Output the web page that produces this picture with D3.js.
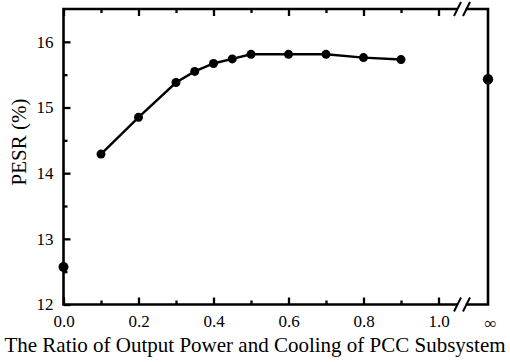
<!DOCTYPE html>
<html><head><meta charset="utf-8">
<script src="https://cdn.jsdelivr.net/npm/d3@7"></script>
<style>body{margin:0;background:#fff}svg{display:block}</style>
</head><body><svg width="510" height="362"></svg>
<script>
const ratios = [0.1, 0.2, 0.3, 0.35, 0.4, 0.45, 0.5, 0.6, 0.7, 0.8, 0.9];
const pesr   = [14.29, 14.85, 15.38, 15.55, 15.67, 15.74, 15.81, 15.81, 15.81, 15.76, 15.73];
const zeroPoint = {x: 0.0, y: 12.57};
const infPoint = {x: "∞", y: 15.43};
const xMajor = [0.0, 0.2, 0.4, 0.6, 0.8, 1.0];
const xMinor = [0.1, 0.3, 0.5, 0.7, 0.9];
const yMajor = [12, 13, 14, 15, 16];
const yMinor = [12.5, 13.5, 14.5, 15.5];
const xTitle = "The Ratio of Output Power and Cooling of PCC Subsystem";
const yTitle = "PESR (%)";

const FONT = '"Liberation Serif","Times New Roman",serif';
const svg = d3.select("svg");
const L = 63.5, R = 488, T = 9, B = 304.5;
const breakL = 456, breakR = 467;
const x = d3.scaleLinear().domain([0, 1]).range([L, 438.5]);
const xInf = d3.scalePoint().domain(["∞"]).range([R + 2, R + 2]);
const y = d3.scaleLinear().domain([12, 16.5]).range([B, T]);

// bottom axis ticks
const gB = svg.append("g").attr("transform", `translate(0,${B})`);
gB.call(d3.axisBottom(x).tickValues(xMajor).tickSize(-7).tickPadding(10).tickFormat(d3.format(".1f")));
gB.append("g").call(d3.axisBottom(x).tickValues(xMinor).tickSize(-4).tickFormat(""));
gB.append("g").call(d3.axisBottom(xInf).tickSize(0).tickPadding(12));
// top axis ticks
const gT = svg.append("g").attr("transform", `translate(0,${T})`);
gT.call(d3.axisTop(x).tickValues(xMajor).tickSize(-7).tickFormat(""));
gT.append("g").call(d3.axisTop(x).tickValues(xMinor).tickSize(-4).tickFormat(""));
// left axis
const gL = svg.append("g").attr("transform", `translate(${L},0)`);
gL.call(d3.axisLeft(y).tickValues(yMajor).tickSize(-7).tickPadding(10).tickFormat(d3.format("d")));
gL.append("g").call(d3.axisLeft(y).tickValues(yMinor).tickSize(-4).tickFormat(""));

svg.selectAll(".domain").remove();
svg.selectAll(".tick line").attr("stroke", "#000").attr("stroke-width", 2.3);
svg.selectAll(".tick text").style("font-size", "17px").style("fill", "#000").style("font-family", FONT);

// frame with breaks
const frame = svg.append("g").attr("stroke", "#000").attr("stroke-width", 2.6).attr("fill", "none");
frame.append("path").attr("d", `M${breakL},${T}H${L}V${B}H${breakL}`).attr("stroke-linecap", "square");
frame.append("path").attr("d", `M${breakR},${T}H${R}V${B}H${breakR}`).attr("stroke-linecap", "square");
[T, B].forEach(yy => {
  [breakL - 2, breakR - 4].forEach(bx => {
    frame.append("line").attr("x1", bx).attr("y1", yy + 7).attr("x2", bx + 7).attr("y2", yy - 7).attr("stroke-width", 2);
  });
});

// line
const pts = ratios.map((r, i) => [r, pesr[i]]);
svg.append("path").datum(pts).attr("fill", "none").attr("stroke", "#000").attr("stroke-width", 2.4)
  .attr("d", d3.line().x(d => x(d[0])).y(d => y(d[1])));
svg.append("g").selectAll("circle").data(pts).join("circle")
  .attr("cx", d => x(d[0])).attr("cy", d => y(d[1])).attr("r", 4.5).attr("fill", "#000");
svg.append("circle").attr("cx", x(zeroPoint.x)).attr("cy", y(zeroPoint.y)).attr("r", 5).attr("fill", "#000");
svg.append("circle").attr("cx", R).attr("cy", y(infPoint.y)).attr("r", 5.2).attr("fill", "#000");

// titles
svg.append("text").attr("x", 255).attr("y", 352).attr("text-anchor", "middle")
  .style("font-family", FONT).style("font-size", "21px").style("fill", "#000").text(xTitle);
svg.append("text").attr("transform", `translate(26,142) rotate(-90)`).attr("text-anchor", "middle")
  .style("font-family", FONT).style("font-size", "21px").style("fill", "#000").text(yTitle);
</script></body></html>
